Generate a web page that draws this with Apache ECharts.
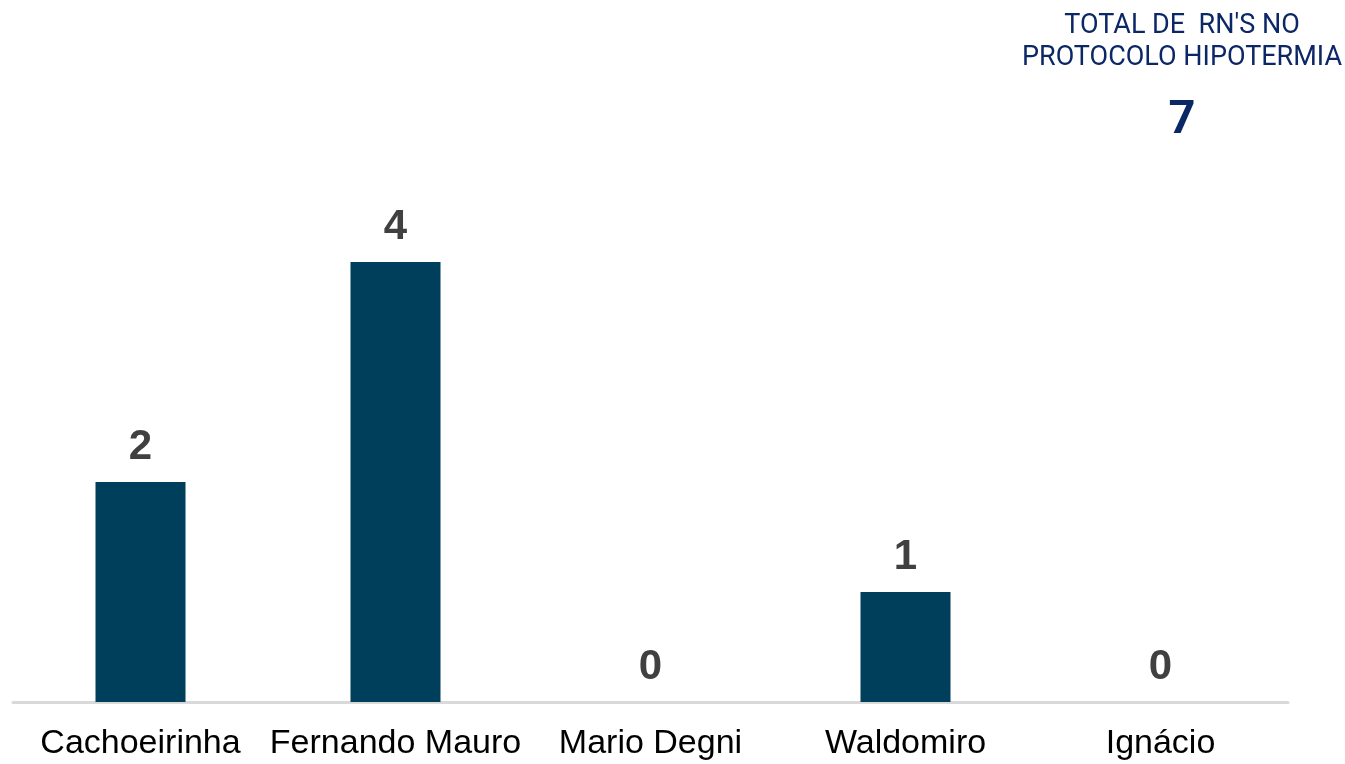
<!DOCTYPE html>
<html>
<head>
<meta charset="utf-8">
<script src="https://cdn.jsdelivr.net/npm/echarts@6/dist/echarts.min.js"></script>
<style>
  html, body { margin: 0; padding: 0; background: #fff; }
  #chart { width: 1345px; height: 764px; }
</style>
</head>
<body>
<div id="chart"></div>
<script>
// hospitais
const categories = ["Cachoeirinha", "Fernando Mauro", "Mario Degni", "Waldomiro", "Ignácio"];
// RNs no protocolo por hospital
const values = [2, 4, 0, 1, 0];
const titleLines = ["TOTAL DE  RN'S NO", "PROTOCOLO HIPOTERMIA"];

const total = values.reduce((a, b) => a + b, 0);

const chart = echarts.init(document.getElementById("chart"));

const option = {
  animation: false,
  grid: {
    left: 13,
    right: 57,
    top: 152,
    bottom: 62
  },
  graphic: [
    {
      type: "text",
      x: 1182,
      y: 26,
      style: {
        text: titleLines[0],
        textAlign: "center",
        textVerticalAlign: "middle",
        font: "27px Roboto",
        fill: "#0c2766"
      }
    },
    {
      type: "text",
      x: 1182,
      y: 58,
      style: {
        text: titleLines[1],
        textAlign: "center",
        textVerticalAlign: "middle",
        font: "27px Roboto",
        fill: "#0c2766"
      }
    },
    {
      type: "text",
      x: 1182,
      y: 121,
      style: {
        text: String(total),
        textAlign: "center",
        textVerticalAlign: "middle",
        font: "bold 47px Roboto",
        fill: "#0c2766"
      }
    }
  ],
  xAxis: {
    type: "category",
    data: categories,
    axisLine: {
      lineStyle: { color: "#d9d9d9", width: 3 }
    },
    axisTick: { show: false },
    axisLabel: {
      color: "#000",
      fontFamily: "Liberation Sans",
      fontSize: 34,
      margin: 25,
      interval: 0
    }
  },
  yAxis: {
    type: "value",
    min: 0,
    max: 5,
    show: false,
    splitLine: { show: false }
  },
  series: [
    {
      type: "bar",
      data: values,
      barWidth: 90,
      itemStyle: { color: "#003f5c" },
      label: {
        show: true,
        position: "top",
        distance: 14,
        color: "#404040",
        fontFamily: "Liberation Sans",
        fontWeight: "bold",
        fontSize: 42
      }
    }
  ]
};

chart.setOption(option);
</script>
</body>
</html>
